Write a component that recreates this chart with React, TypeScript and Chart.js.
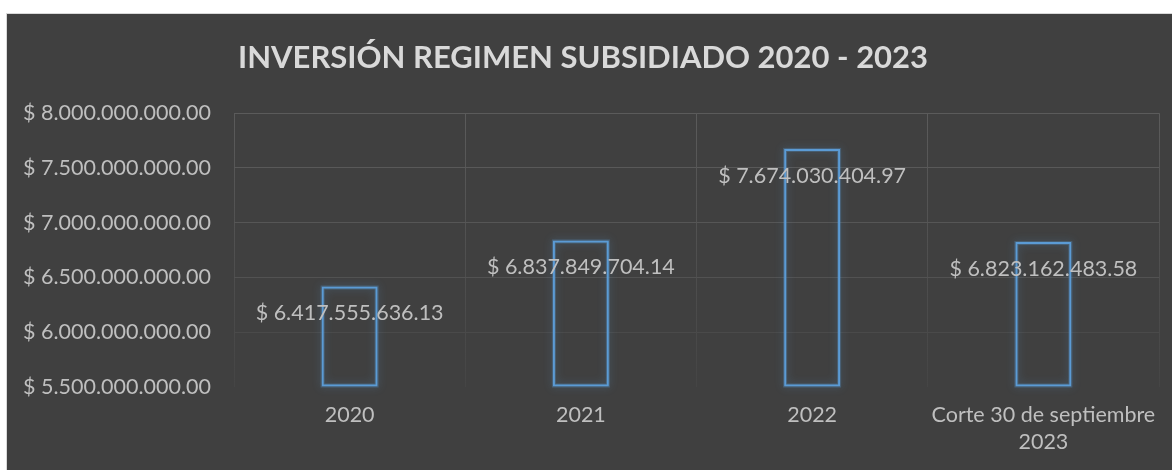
import React, { useEffect, useRef } from "react";
import { Chart, registerables } from "chart.js";

Chart.register(...registerables);

const categories: (string | string[])[] = ["2020", "2021", "2022", ["Corte 30 de septiembre", "2023"]];
const values: number[] = [6417555636.13, 6837849704.14, 7674030404.97, 6823162483.58];
const yMin = 5500000000;
const yMax = 8000000000;
const yStep = 500000000;
const titleText = "INVERSIÓN REGIMEN SUBSIDIADO 2020 - 2023";

const FONT = "Lato, 'Open Sans', sans-serif";
const LABEL_SIZE = 21.5;

function fmt(v: number): string {
  const [i, d] = v.toFixed(2).split(".");
  return "$ " + i.replace(/\B(?=(\d{3})+(?!\d))/g, ".") + "." + d;
}

const gridColors: Record<number, string> = {
  8000000000: "#5b5b5b",
  7500000000: "#595959",
  7000000000: "#565656",
  6500000000: "#525252",
  6000000000: "#4a4a4a",
};

const bgPlugin = {
  id: "bgBox",
  beforeDraw(chart: any) {
    const ctx = chart.ctx;
    ctx.save();
    ctx.fillStyle = "#ffffff";
    ctx.fillRect(0, 0, chart.width, chart.height);
    ctx.fillStyle = "#d9d9d9";
    ctx.fillRect(6, 13, chart.width - 6, chart.height - 13);
    ctx.fillStyle = "#404040";
    ctx.fillRect(7, 14, chart.width - 7, chart.height - 14);
    ctx.restore();
  },
};

const glowPlugin = {
  id: "glow",
  beforeDatasetsDraw(chart: any) {
    const ctx = chart.ctx;
    const meta = chart.getDatasetMeta(0);
    ctx.save();
    meta.data.forEach((bar: any) => {
      const { x, y, base, width } = bar.getProps(["x", "y", "base", "width"], true);
      const left = x - width / 2;
      const top = Math.min(y, base);
      const h = Math.abs(base - y);
      ctx.shadowColor = "rgba(91,155,213,0.8)";
      ctx.shadowBlur = 8;
      ctx.strokeStyle = "rgba(91,155,213,0.3)";
      ctx.lineWidth = 4;
      ctx.strokeRect(left + 1, top + 1, width - 2, h - 2);
    });
    ctx.restore();
  },
  afterDatasetsDraw(chart: any) {
    const ctx = chart.ctx;
    const meta = chart.getDatasetMeta(0);
    ctx.save();
    ctx.fillStyle = "#bfbfbf";
    ctx.font = `${LABEL_SIZE}px ${FONT}`;
    ctx.textAlign = "center";
    ctx.textBaseline = "middle";
    meta.data.forEach((bar: any, i: number) => {
      ctx.fillText(fmt(values[i]), bar.x, bar.y + 27);
    });
    ctx.restore();
  },
};

export default function App() {
  const ref = useRef<HTMLCanvasElement | null>(null);
  useEffect(() => {
    if (!ref.current) return;
    const chart = new Chart(ref.current, {
      type: "bar",
      data: {
        labels: categories as any,
        datasets: [
          {
            data: values,
            base: yMin,
            backgroundColor: "rgba(0,0,0,0)",
            borderColor: "#5b9bd5",
            borderWidth: 2,
            borderSkipped: false,
            barPercentage: 0.242,
            categoryPercentage: 1,
            clip: false as any,
          } as any,
        ],
      },
      options: {
        animation: false,
        responsive: false,
        maintainAspectRatio: false,
        devicePixelRatio: 1,
        layout: { padding: { left: 7, right: 13, top: 14, bottom: 0 } },
        plugins: {
          legend: { display: false },
          tooltip: { enabled: false },
          title: {
            display: true,
            text: titleText,
            color: "#d9d9d9",
            font: { family: FONT, size: 31, weight: "bold" },
            padding: { top: 25, bottom: 37 },
          },
        },
        scales: {
          x: {
            grid: {
              drawTicks: false,
              offset: true,
              color: (c: any) => {
                const a = c.chart.chartArea;
                if (!a) return "#555555";
                const g = c.chart.ctx.createLinearGradient(0, a.top, 0, a.bottom);
                g.addColorStop(0, "#5b5b5b");
                g.addColorStop(1, "#454545");
                return g;
              },
            },
            border: { display: false },
            ticks: {
              color: "#bfbfbf",
              font: { family: FONT, size: LABEL_SIZE, lineHeight: 1.25 },
              padding: 15,
              maxRotation: 0,
              autoSkip: false,
            },
            afterFit: (s: any) => {
              s.height = 83;
            },
          },
          y: {
            min: yMin,
            max: yMax,
            grid: {
              drawTicks: false,
              color: (c: any) => gridColors[c.tick?.value] ?? "rgba(0,0,0,0)",
            },
            border: { display: false },
            ticks: {
              stepSize: yStep,
              color: "#bfbfbf",
              font: { family: FONT, size: LABEL_SIZE },
              padding: 23,
              callback: (v: any) => fmt(Number(v)),
            },
            afterFit: (s: any) => {
              s.width = 227;
            },
          },
        },
      },
      plugins: [bgPlugin, glowPlugin],
    });
    return () => chart.destroy();
  }, []);
  return (
    <div style={{ position: "fixed", left: 0, top: 0, width: 1172, height: 470 }}>
      <canvas ref={ref} width={1172} height={470} style={{ width: 1172, height: 470, display: "block" }} />
    </div>
  );
}
